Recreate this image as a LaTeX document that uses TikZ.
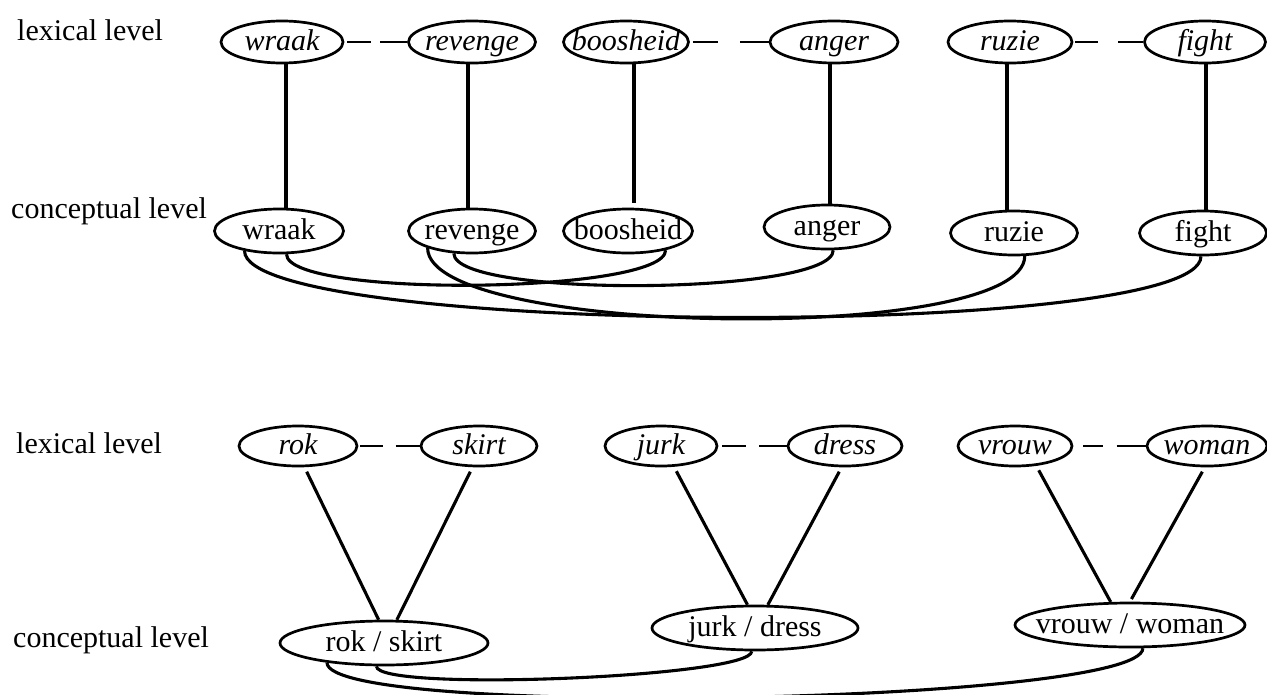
\documentclass[tikz,border=0pt]{standalone}
\usepackage{fontspec}
\setmainfont{Liberation Serif}
\usetikzlibrary{shapes.geometric,calc}
\newcommand\zb[1]{\makebox[0pt]{#1}}
% pair link: node a, node b, half gap, start gap
\newcommand\pairlink[4]{%
  \draw[dashpart, shorten <=#4pt] (#1.east) -- ($(#1.east)!0.5!(#2.west)+(-#3,0)$);
  \draw[dashpart] ($(#1.east)!0.5!(#2.west)+(#3,0)$) -- (#2.west);}
\tikzset{
  lex/.style={ellipse, draw, line width=2.7pt, inner sep=0pt, minimum height=42pt,
    text height=19pt, text depth=3pt, font=\fontsize{30}{34}\selectfont\itshape},
  con/.style={ellipse, draw, line width=2.7pt, inner sep=0pt, minimum height=44pt,
    text height=19pt, text depth=3pt, font=\fontsize{30}{34}\selectfont},
  lvl/.style={anchor=base west, inner sep=0pt, font=\fontsize{30}{34}\selectfont},
  link/.style={line width=3.1pt},
  dashpart/.style={line width=1.3pt},
}
\begin{document}
\begin{tikzpicture}[x=1pt,y=-1pt]
\useasboundingbox (0,0) rectangle (1267,694);
\clip (0,0) rectangle (1267,694);

% level labels
\node[lvl] (l1) at (17,40) {lexical level};
\node[lvl] (c1) at (11,218) {conceptual level};
\node[lvl] (l2) at (16,453) {lexical level};
\node[lvl] (c2) at (13,647) {conceptual level};

% ---------- top: lexical ----------
\node[lex, minimum width=122pt] (lw) at (282,42) {\zb{wraak}};
\node[lex, minimum width=127pt] (lr) at (472,42) {\zb{revenge}};
\node[lex, minimum width=125pt] (lb) at (626,42) {\zb{boosheid}};
\node[lex, minimum width=128pt] (la) at (834,42) {\zb{anger}};
\node[lex, minimum width=124pt] (lz) at (1010,42) {\zb{ruzie}};
\node[lex, minimum width=121pt] (lf) at (1205,42) {\zb{fight}};

% ---------- top: conceptual ----------
\node[con, minimum width=129pt] (cw) at (279,231) {\zb{wraak}};
\node[con, minimum width=127pt] (cr) at (472,231) {\zb{revenge}};
\node[con, minimum width=129pt] (cb) at (628,231) {\zb{boosheid}};
\node[con, minimum width=126pt] (ca) at (827,227) {\zb{anger}};
\node[con, minimum width=127pt] (cz) at (1014,233) {\zb{ruzie}};
\node[con, minimum width=127pt] (cf) at (1203,233) {\zb{fight}};

% translation links
\pairlink{lw}{lr}{4.5}{3}
\pairlink{lb}{la}{11}{3}
\pairlink{lz}{lf}{10}{2}

% lexical -> conceptual
\draw[link] ($(lw.south)+(4,0)$) -- ($(cw.north)+(7,0)$);
\draw[link] ($(lr.south)+(-4,0)$) -- ($(cr.north)+(-4,0)$);
\draw[link, shorten >=5pt] ($(lb.south)+(8,0)$) -- ($(cb.north)+(6,0)$);
\draw[link] ($(la.south)+(-4,0)$) -- ($(ca.north)+(3,0)$);
\draw[link] ($(lz.south)+(-3,0)$) -- ($(cz.north)+(-7,0)$);
\draw[link] ($(lf.south)+(1,0)$) -- ($(cf.north)+(3,0)$);

% conceptual associations
\draw[link] (cw.288) .. controls +(0,44) and +(0,44) .. (cb.333);
\draw[link] (cw.210) .. controls +(0,85) and +(0,85) .. (cf.265);
\draw[link] (cr.231) .. controls +(0,45) and +(0,45) .. (ca.285);
\draw[link] (cr.201) .. controls +(0,89) and +(0,89) .. (cz.295);

% ---------- bottom: lexical ----------
\node[lex, minimum width=118pt, minimum height=40pt] (rok) at (298,446) {\zb{rok}};
\node[lex, minimum width=116pt, minimum height=40pt] (skirt) at (479,446) {\zb{skirt}};
\node[lex, minimum width=112pt, minimum height=40pt] (jurk) at (661,446) {\zb{jurk}};
\node[lex, minimum width=114pt, minimum height=40pt] (dress) at (845,446) {\zb{dress}};
\node[lex, minimum width=114pt, minimum height=40pt] (vrouw) at (1015,446) {\zb{vrouw}};
\node[lex, minimum width=120pt, minimum height=40pt] (woman) at (1207,446) {\zb{woman}};

% ---------- bottom: conceptual ----------
\node[con, minimum width=208pt] (rs) at (384,643) {\zb{rok / skirt}};
\node[con, minimum width=206pt] (jd) at (755,628) {\zb{jurk / dress}};
\node[con, minimum width=230pt] (vw) at (1130,625) {\zb{vrouw / woman}};

\pairlink{rok}{skirt}{6.5}{2}
\pairlink{jurk}{dress}{6.5}{4}
\pairlink{vrouw}{woman}{7}{10}

\draw[link, shorten <=5pt] (rok.287) -- (rs.103);
\draw[link, shorten <=5pt] (skirt.253) -- (rs.61);
\draw[link, shorten <=5pt] (jurk.302) -- (jd.108);
\draw[link, shorten <=5pt] (dress.261) -- (jd.61);
\draw[link, shorten <=5pt] (vrouw.317) -- (vw.130);
\draw[link, shorten <=5pt, shorten >=3pt] (woman.264) -- (vw.90);

\draw[link] (rs.252) .. controls +(0,26) and +(0,26) .. (jd.262);
\draw[link] (rs.199) .. controls +(0,56) and +(0,56) .. (vw.299);
\end{tikzpicture}
\end{document}
